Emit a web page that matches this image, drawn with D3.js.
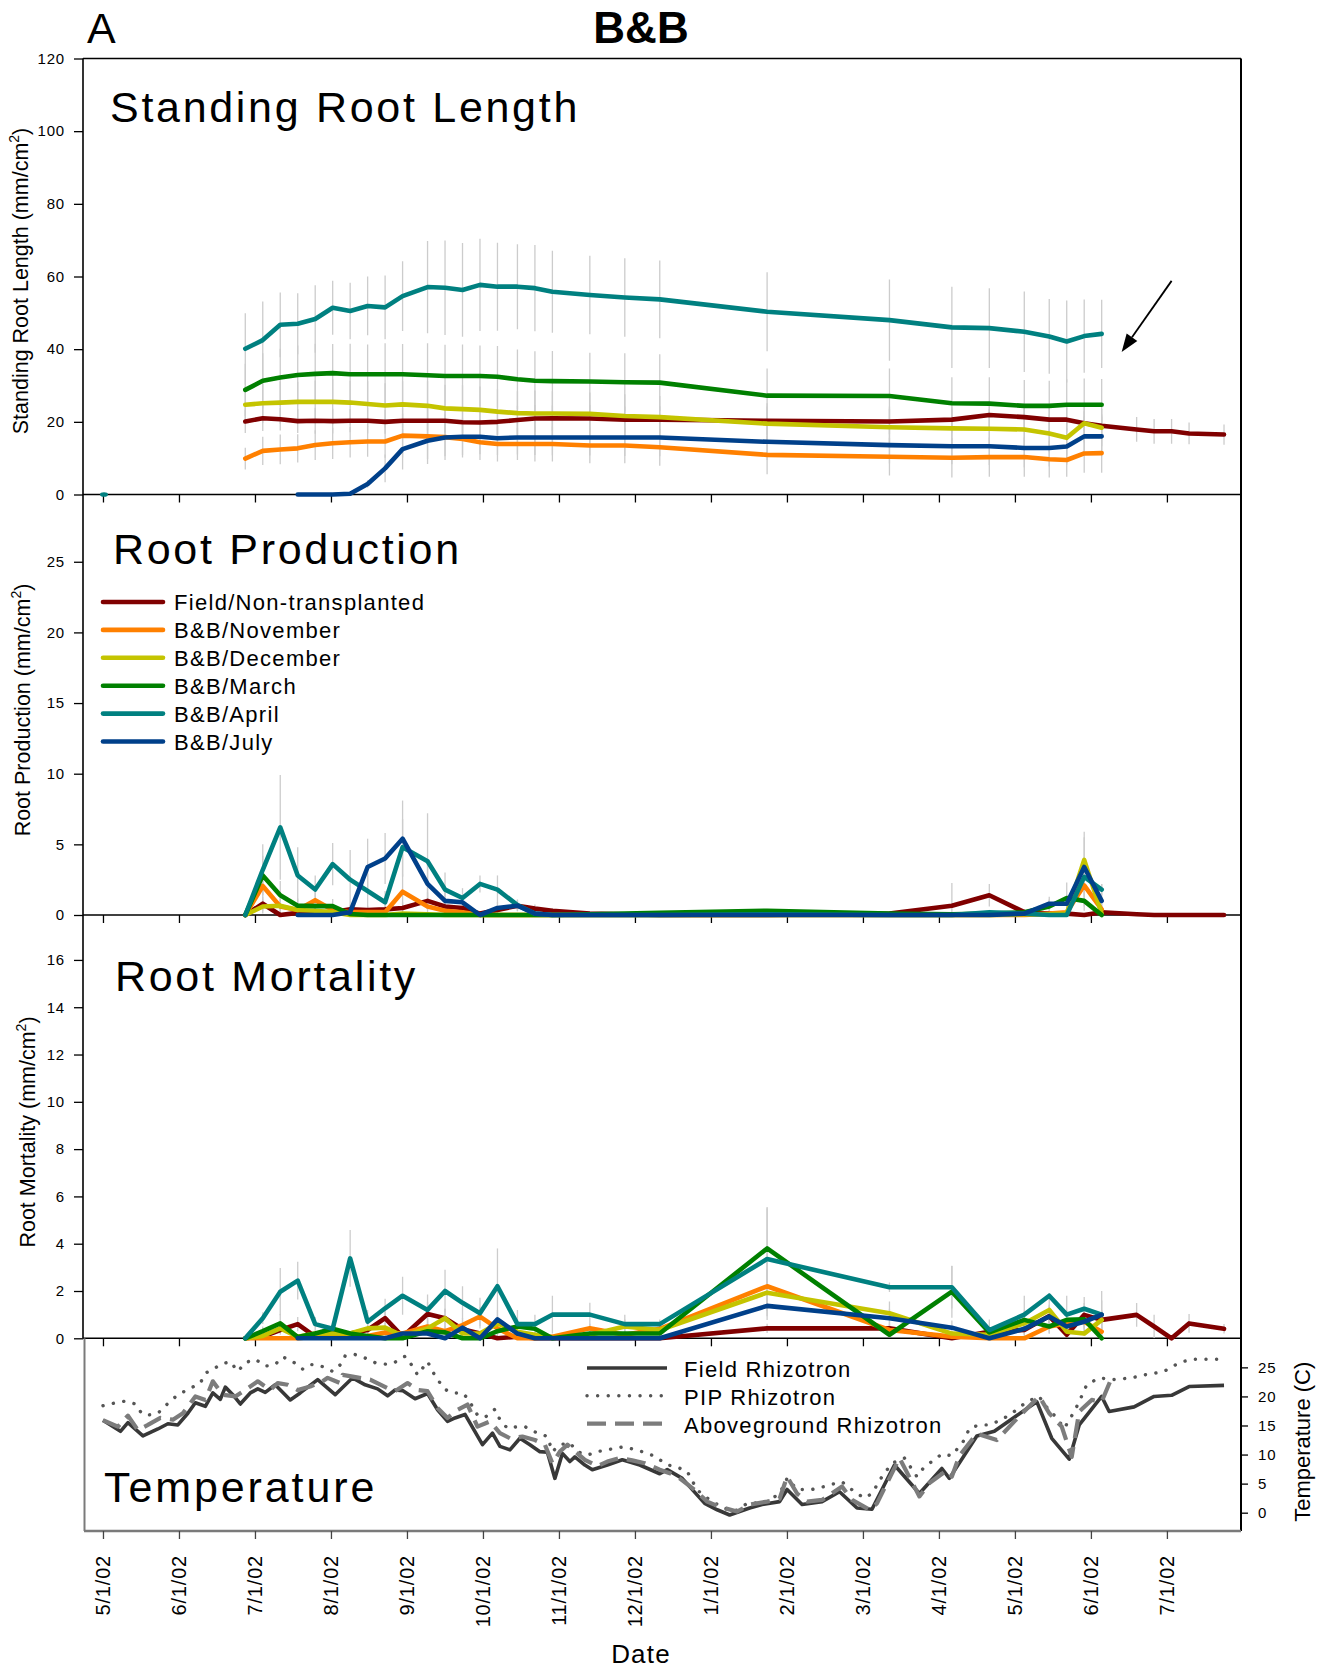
<!DOCTYPE html>
<html>
<head>
<meta charset="utf-8">
<script src="https://cdn.jsdelivr.net/npm/d3@7"></script>
<style>
  html, body { margin: 0; padding: 0; background: #ffffff; }
  svg { display: block; }
</style>
</head>
<body>
<svg id="chart" width="1323" height="1668"></svg>
<script>
// ---- sampling dates (days since 1 May 2002) ----
const sampleDays = [57,64,71,78,85,92,99,106,113,120,130,137,144,151,158,166,173,180,195,209,223,266,315,340,355,369,379,386,393,400,414,421,428,435,449];

const tickLabels = ["5/1/02","6/1/02","7/1/02","8/1/02","9/1/02","10/1/02","11/1/02","12/1/02","1/1/02","2/1/02","3/1/02","4/1/02","5/1/02","6/1/02","7/1/02"];

const treatments = ["Field/Non-transplanted","B&B/November","B&B/December","B&B/March","B&B/April","B&B/July"];

// ---- standing root length (mm/cm2), means and SE ----
const srlField = [20.1,21.0,20.7,20.2,20.3,20.2,20.3,20.3,20.0,20.3,20.3,20.3,19.9,19.8,20.0,20.5,20.9,21.0,20.9,20.6,20.6,20.3,20.1,20.6,21.9,21.3,20.6,20.6,19.6,18.9,17.9,17.4,17.4,16.8,16.5];
const srlNov   = [9.9,12.0,12.4,12.7,13.6,14.1,14.4,14.6,14.6,16.2,16.0,15.8,15.3,14.4,13.9,13.9,13.9,13.9,13.5,13.5,13.0,10.9,10.4,10.1,10.3,10.3,9.7,9.5,11.3,11.4];
const srlDec   = [24.7,25.1,25.3,25.5,25.5,25.5,25.3,24.9,24.5,24.8,24.4,23.7,23.5,23.3,22.8,22.4,22.3,22.3,22.2,21.6,21.3,19.5,18.5,18.2,18.1,17.9,16.8,15.6,19.6,18.4];
const srlMar   = [28.8,31.3,32.2,32.9,33.2,33.4,33.1,33.1,33.1,33.1,32.8,32.6,32.6,32.6,32.4,31.7,31.3,31.2,31.1,30.9,30.8,27.2,27.1,25.1,25.0,24.4,24.4,24.7,24.7,24.7];
const srlApr   = [40.1,42.5,46.7,47.0,48.3,51.4,50.5,51.9,51.5,54.6,57.1,56.9,56.3,57.7,57.2,57.2,56.8,55.8,54.9,54.2,53.7,50.3,48.0,46.0,45.8,44.8,43.5,42.1,43.6,44.2];
const srlJul   = [null,null,null,0,0,0,0.2,2.9,7.2,12.5,14.8,15.7,15.9,15.9,15.5,15.7,15.7,15.7,15.7,15.7,15.7,14.5,13.6,13.3,13.3,12.8,12.8,13.2,16.0,16.0];

const srlFieldSE = [3.2,3.5,3.1,3.3,3.6,3.4,3.2,3.5,3.3,3.6,3.8,3.4,3.5,3.7,3.6,3.9,3.7,3.5,3.8,3.6,3.7,3.9,3.5,3.6,3.8,3.7,3.5,3.4,3.3,3.2,3.4,3.4,3.4,3.0,2.8];
const srlNovSE   = [3.0,3.9,4.1,3.9,4.1,4.3,4.2,4.2,4.5,6.0,7.6,6.3,5.1,4.9,4.8,4.4,4.8,4.8,4.9,4.9,5.1,5.3,5.2,5.4,5.4,5.4,5.0,4.6,5.3,5.4];
const srlDecSE   = [5.1,5.4,5.8,5.5,5.9,6.2,6.0,6.3,6.1,6.4,6.8,6.5,6.6,6.4,6.2,6.0,6.3,6.1,5.9,6.0,5.8,5.6,5.7,5.5,5.4,5.6,5.2,4.9,5.3,5.1];
const srlMarSE   = [7.2,7.6,7.9,8.1,8.3,8.0,8.4,8.2,8.5,8.3,8.8,8.6,8.7,8.4,8.5,8.2,8.1,8.3,7.9,8.0,7.8,7.5,7.6,7.2,7.3,7.1,6.9,7.0,7.2,7.1];
const srlAprSE   = [9.8,10.6,8.9,8.4,9.3,7.4,7.8,8.1,8.8,9.6,12.7,13.0,12.9,12.7,12.1,11.7,11.9,11.3,10.8,10.8,10.7,10.9,11.2,11.2,11.0,11.1,10.3,11.3,10.1,9.4];
const srlJulSE   = [null,null,null,0,0,0,0.2,1.0,3.8,5.6,5.0,5.2,5.0,4.8,4.6,4.7,4.8,4.9,5.0,5.1,5.2,5.0,5.1,5.0,5.2,5.3,5.1,5.0,5.4,5.5];

// single early April reading at the start of the study
const srlAprEarlyDay = [0];
const srlAprEarly = [0];

// ---- root production (mm/cm2) ----
const prodField = [0,0.8,0,0.15,0.2,0.2,0.4,0.35,0.4,0.5,1.0,0.6,0.5,0.1,0.35,0.66,0.45,0.3,0.1,0.05,0,0,0.1,0.66,1.4,0.2,0.1,0.1,0,0.2,0.05,0,0,0,0];
const prodNov   = [0,2.05,0.6,0.35,1.05,0.35,0.2,0.2,0.2,1.65,0.6,0.3,0.2,0,0,0,0,0,0,0,0,0,0,0,0,0,0.1,0.2,2.1,0.4];
const prodDec   = [0,0.6,0.66,0.35,0.3,0.2,0,0,0,0.1,0.05,0,0,0,0,0,0,0,0,0,0,0,0,0,0,0.05,0.05,0.1,3.9,0.1];
const prodMar   = [0,2.8,1.4,0.66,0.63,0.63,0.07,0,0,0,0,0,0,0,0,0,0,0,0.05,0.1,0.15,0.3,0.1,0.05,0.1,0.2,0.6,1.2,1.0,0];
const prodApr   = [0,3.2,6.2,2.8,1.8,3.6,2.5,1.7,0.9,4.8,3.8,1.8,1.2,2.2,1.8,0.7,0.1,0,0,0,0,0.05,0,0,0.2,0.1,0,0,2.7,1.8];
const prodJul   = [null,null,null,0,0,0,0.2,3.4,4.0,5.4,2.2,1.0,0.9,0,0.5,0.66,0.1,0,0,0,0,0,0,0,0,0.1,0.8,0.8,3.4,1.0];

const prodFieldSE = [0,0.5,0,0.1,0.2,0.2,0.3,0.3,0.3,0.4,0.6,0.4,0.4,0.1,0.3,0.4,0.3,0.2,0.1,0.05,0,0,0.1,1.6,0.8,0.2,0.1,0.1,0,0.2,0.05,0,0,0,0];
const prodNovSE   = [0,1.2,0.5,0.3,0.8,0.3,0.2,0.2,0.2,1.2,0.5,0.3,0.2,0,0,0,0,0,0,0,0,0,0,0,0,0,0.1,0.2,1.5,0.4];
const prodDecSE   = [0,0.5,0.5,0.3,0.3,0.2,0,0,0,0.1,0.05,0,0,0,0,0,0,0,0,0,0,0,0,0,0,0.05,0.05,0.1,2.0,0.2];
const prodMarSE   = [0,1.4,1.0,0.5,0.5,0.5,0.1,0,0,0,0,0,0,0,0,0,0,0,0.05,0.1,0.1,0.1,0.1,0.05,0.1,0.2,0.5,1.1,0.7,0];
const prodAprSE   = [0,1.8,3.7,2.0,1.0,1.5,2.1,1.2,0.8,2.0,3.4,1.2,0.7,0.6,1.0,0.4,0.2,0.1,0,0,0,0.05,0,0,0.1,0.1,0,0,0.8,0.4];
const prodJulSE   = [null,null,null,0,0,0,0.2,2.0,1.8,2.7,1.4,0.6,0.5,0,0.4,0.3,0.1,0,0,0,0,0,0,0,0,0.1,0.5,0.6,2.1,1.2];

// ---- root mortality (mm/cm2) ----
const mortField = [0,0.07,0.35,0.6,0.07,0.2,0.2,0.35,0.85,0.07,1.03,0.85,0.38,0.2,0,0.07,0,0,0,0,0,0.42,0.42,0,0.28,0.35,0.94,0.15,0.99,0.78,0.99,0.5,0,0.63,0.4];
const mortNov   = [0,0,0,0,0.07,0.15,0.07,0.1,0.24,0.2,0.5,0.3,0.56,0.92,0.42,0,0,0.07,0.42,0.15,0.4,2.2,0.35,0.07,0,0,0.5,0.63,0.7,0.28];
const mortDec   = [0,0.1,0.42,0.07,0.2,0.2,0.2,0.42,0.45,0.1,0.42,0.85,0.2,0.2,0.63,0.28,0.15,0,0.15,0.5,0.35,1.93,1.06,0.2,0.15,0.63,1.2,0.28,0.2,0.78];
const mortMar   = [0,0.3,0.63,0.05,0.2,0.4,0.2,0.1,0,0,0.3,0.25,0,0,0.3,0.5,0.4,0,0.2,0.2,0.2,3.8,0.15,1.97,0.25,0.78,0.5,0.78,0.8,0];
const mortApr   = [0,0.85,1.97,2.44,0.6,0.4,3.38,0.7,1.27,1.8,1.2,2.0,1.5,1.06,2.2,0.6,0.6,1.0,1.0,0.6,0.6,3.35,2.16,2.16,0.35,1.0,1.8,1.0,1.25,1.0];
const mortJul   = [null,null,null,0,0,0,0,0,0,0.2,0.2,0,0.45,0,0.8,0.2,0,0,0,0,0,1.37,0.85,0.45,0,0.4,0.92,0.5,0.7,1.0];

const mortFieldSE = [0,0.05,0.2,0.3,0.05,0.1,0.1,0.2,0.4,0.05,0.5,0.4,0.2,0.1,0,0.05,0,0,0,0,0,0.2,0.2,0,0.2,0.2,0.4,0.1,0.5,0.4,0.5,0.5,0,0.4,0.2];
const mortNovSE   = [0,0,0,0,0.05,0.1,0.05,0.1,0.2,0.1,0.3,0.2,0.3,0.4,0.2,0,0,0.05,0.2,0.1,0.2,1.0,0.2,0.05,0,0,0.3,0.3,0.4,0.2];
const mortDecSE   = [0,0.1,0.2,0.05,0.1,0.1,0.1,0.2,0.2,0.1,0.2,0.4,0.1,0.1,0.3,0.2,0.1,0,0.1,0.3,0.2,1.0,0.5,0.1,0.1,0.3,0.7,0.2,0.1,0.4];
const mortMarSE   = [0,0.2,0.4,0.05,0.1,0.2,0.1,0.1,0,0,0.2,0.2,0,0,0.2,0.3,0.2,0,0.1,0.1,0.1,1.7,0.1,1.1,0.2,0.4,0.3,0.4,0.4,0];
const mortAprSE   = [0,0.25,1.0,0.8,0.3,0.2,1.2,0.5,0.4,0.8,0.65,0.9,0.7,0.65,1.6,0.6,0.4,0.8,0.5,0.4,0.2,2.2,0.2,0.9,0.45,0.8,0.1,0.8,0.5,1.0];
const mortJulSE   = [null,null,null,0,0,0,0,0,0,0.1,0.1,0,0.3,0,0.4,0.1,0,0,0,0,0,0.6,0.4,0.3,0,0.3,0.5,0.3,0.4,0.6];

// ---- rhizotron temperatures (C) ----
const fieldTempDays = [0,7,10,16,22,26,30,34,37,41,44,47,49,52,55,59,62,65,69,75,79,86,93,100,105,110,114,117,120,125,130,134,138,141,145,152,156,159,163,167,171,175,178,181,184,187,189,193,196,202,208,215,223,226,232,241,246,251,259,264,271,274,280,288,295,302,308,317,327,336,339,350,357,374,380,387,391,400,403,413,421,428,435,449];
const fieldTemp = [15.9,14.0,15.5,13.2,14.4,15.3,15.1,17.1,18.9,18.3,20.6,19.5,21.6,20.3,18.7,20.6,21.3,20.7,22.0,19.4,20.6,22.9,20.3,23.2,22.0,21.3,20.1,21.1,21.0,19.6,20.5,17.7,15.7,16.3,16.9,11.7,13.7,11.4,10.8,12.8,11.7,10.5,10.4,5.9,10.2,8.8,9.6,8.2,7.4,8.2,9.1,8.2,6.7,7.4,5.9,1.6,0.5,-0.4,0.8,1.4,1.9,4.0,1.4,1.9,3.6,0.8,0.6,8.2,3.3,7.6,5.9,13.2,14.0,19.1,12.8,9.2,15.1,20.0,17.4,18.2,20.0,20.2,21.7,21.9];

const pipTempDays = [0,5,9,13,15,17,22,25,30,35,39,41,45,47,51,54,57,61,65,69,72,76,80,83,87,92,96,97,101,105,109,114,117,121,124,126,130,132,134,137,140,144,146,150,153,157,159,162,166,169,173,178,180,183,187,190,194,198,203,208,213,218,221,226,229,234,238,243,249,254,258,262,266,271,274,278,284,289,292,296,301,305,308,312,316,321,326,329,333,336,340,345,347,351,355,360,365,370,375,377,382,385,389,391,394,399,404,408,413,417,420,425,428,432,436,449];
const pipTemp = [18.4,18.9,19.2,18.7,17.4,16.7,17.1,18.4,20.3,21.4,22.3,24.0,24.9,25.5,26.0,24.3,25.8,26.4,25.2,25.5,26.8,26.0,24.7,25.5,25.3,24.3,25.8,27.0,27.2,26.6,25.8,25.5,25.9,26.9,25.2,23.7,26.0,24.3,22.9,21.2,20.6,20.6,19.7,16.8,16.4,17.8,16.0,14.5,14.8,14.8,13.9,13.1,10.5,11.7,12.0,10.5,9.9,10.5,10.9,11.3,10.9,10.2,9.7,8.2,8.0,7.1,3.9,2.2,0.7,0.4,1.6,1.7,1.9,3.3,5.9,4.0,4.0,4.5,4.9,5.3,3.6,2.5,3.3,6.2,8.5,9.4,6.2,7.9,9.1,10.1,9.8,12.5,14.5,15.1,15.1,16.0,17.4,19.1,20.0,18.6,16.3,14.5,17.4,19.1,22.0,23.2,22.9,23.0,23.3,23.7,23.9,24.3,25.1,25.9,26.4,26.4];

const agTempDays = [0,6,10,14,18,23,28,32,37,41,44,48,53,57,62,67,70,74,78,83,88,90,95,96,100,107,114,117,122,126,130,134,138,142,146,150,155,159,163,168,173,177,180,183,186,190,193,198,202,207,212,217,223,227,231,237,242,247,254,259,266,271,274,278,282,288,296,300,307,310,319,327,331,338,340,343,350,358,367,375,379,384,388,391,396,400,404];
const agTemp = [15.9,14.8,16.7,14.2,15.1,16.3,16.0,17.1,20.0,19.4,22.6,20.3,20.0,21.1,22.6,21.1,22.3,22.0,21.1,21.7,22.6,23.2,22.3,23.7,23.4,22.9,21.4,20.9,22.3,21.1,20.9,18.0,16.3,17.7,18.6,14.8,15.7,13.7,12.8,13.1,12.5,11.7,8.5,10.5,11.7,10.2,9.1,8.0,8.8,9.4,9.0,8.5,7.4,6.8,5.9,3.9,1.9,1.0,0.2,1.4,1.9,2.4,6.2,3.3,1.9,2.2,4.5,2.2,0.5,1.6,9.4,2.8,5.1,7.3,6.2,9.8,13.6,12.5,16.6,20.0,17.1,14.8,9.6,17.4,19.4,19.1,23.2];

// ------------------------------------------------------------------
const FONT = "'Liberation Sans', Arial, Helvetica, sans-serif";
const colors = ["#800000", "#ff8000", "#c4c400", "#008000", "#008080", "#00408a"];

const left = 83, right = 1241;
const svg = d3.select("#chart").style("font-family", FONT);

// study-day axis, one tick per (average) month
const x = d3.scaleLinear().domain([-8, 455.8]).range([left, right]);
const monthTicks = tickLabels.map((_, i) => i * 365.25 / 12);

const ySrl  = d3.scaleLinear().domain([0, 120]).range([494.5, 58.5]);
const yProd = d3.scaleLinear().domain([0, 29.76]).range([915, 494.5]);
const yMort = d3.scaleLinear().domain([0, 17.9]).range([1338.3, 915]);
const yTemp = d3.scaleLinear().domain([-3.15, 30]).range([1531, 1338.3]);

const panels = [
  { id: "srl",  y: ySrl,  ticks: d3.range(0, 121, 20),
    means: [srlField, srlNov, srlDec, srlMar, srlApr, srlJul],
    errs:  [srlFieldSE, srlNovSE, srlDecSE, srlMarSE, srlAprSE, srlJulSE],
    title: "Standing Root Length", titleX: 110, titleY: 122,
    axisLabel: "Standing Root Length (mm/cm", labelX: 27.5, labelY: 281 },
  { id: "prod", y: yProd, ticks: d3.range(0, 26, 5),
    means: [prodField, prodNov, prodDec, prodMar, prodApr, prodJul],
    errs:  [prodFieldSE, prodNovSE, prodDecSE, prodMarSE, prodAprSE, prodJulSE],
    title: "Root Production", titleX: 113, titleY: 564,
    axisLabel: "Root Production (mm/cm", labelX: 29.5, labelY: 710 },
  { id: "mort", y: yMort, ticks: d3.range(0, 17, 2),
    means: [mortField, mortNov, mortDec, mortMar, mortApr, mortJul],
    errs:  [mortFieldSE, mortNovSE, mortDecSE, mortMarSE, mortAprSE, mortJulSE],
    title: "Root Mortality", titleX: 115, titleY: 991,
    axisLabel: "Root Mortality (mm/cm", labelX: 34.5, labelY: 1132 }
];

const defs = svg.append("defs");

function styleTickText(g, size) {
  g.selectAll("text")
    .attr("fill", "#000")
    .style("font-family", FONT)
    .style("font-size", size + "px")
    .attr("letter-spacing", "0.8");
}

// ---- frame and axes for the three root panels ----
panels.forEach(p => {
  const [yb, yt] = p.y.range();

  defs.append("clipPath").attr("id", "clip-" + p.id)
    .append("rect").attr("x", left).attr("y", yt)
    .attr("width", right - left).attr("height", yb - yt);

  // y axis ticks + labels
  svg.append("g")
    .attr("transform", `translate(${left},0)`)
    .call(d3.axisLeft(p.y).tickValues(p.ticks).tickSize(9).tickPadding(9).tickSizeOuter(0))
    .call(g => g.select(".domain").remove())
    .call(g => g.selectAll("line").attr("stroke", "#000").attr("stroke-width", 1.3))
    .call(g => styleTickText(g, 15));

  // month ticks along the panel base
  svg.append("g")
    .attr("transform", `translate(0,${yb})`)
    .call(d3.axisBottom(x).tickValues(monthTicks).tickSize(8).tickSizeOuter(0).tickFormat(() => ""))
    .call(g => g.select(".domain").remove())
    .call(g => g.selectAll("line").attr("stroke", "#000").attr("stroke-width", 1.3));

  // base line
  svg.append("line").attr("x1", left).attr("x2", right).attr("y1", yb).attr("y2", yb)
    .attr("stroke", "#000").attr("stroke-width", 1.6);

  // panel title
  svg.append("text").attr("x", p.titleX).attr("y", p.titleY)
    .attr("font-size", 43).attr("letter-spacing", 2.7).attr("fill", "#000")
    .text(p.title);

  // rotated y axis title with superscript
  const t = svg.append("text")
    .attr("transform", `translate(${p.labelX},${p.labelY}) rotate(-90)`)
    .attr("text-anchor", "middle").attr("font-size", 21.5).attr("fill", "#000");
  t.append("tspan").text(p.axisLabel);
  t.append("tspan").attr("font-size", 14).attr("dy", -9).text("2");
  t.append("tspan").attr("dy", 9).text(")");
});

// outer frame
svg.append("line").attr("x1", left).attr("x2", right).attr("y1", ySrl(120)).attr("y2", ySrl(120))
  .attr("stroke", "#000").attr("stroke-width", 1.6);
svg.append("line").attr("x1", left).attr("x2", left).attr("y1", ySrl(120)).attr("y2", yMort(0))
  .attr("stroke", "#000").attr("stroke-width", 1.6);
svg.append("line").attr("x1", right).attr("x2", right).attr("y1", ySrl(120)).attr("y2", yTemp.range()[0])
  .attr("stroke", "#000").attr("stroke-width", 2);

// ---- error bars (behind the lines) ----
panels.forEach(p => {
  const g = svg.append("g").attr("clip-path", `url(#clip-${p.id})`);
  p.means.forEach((vals, s) => {
    const se = p.errs[s];
    const bars = sampleDays.map((day, i) => ({ day, v: vals[i], e: se[i] }))
      .filter(d => d.v != null && d.e != null && d.e > 0);
    g.selectAll(null).data(bars).join("line")
      .attr("x1", d => x(d.day)).attr("x2", d => x(d.day))
      .attr("y1", d => p.y(d.v - d.e)).attr("y2", d => p.y(d.v + d.e))
      .attr("stroke", "#cccccc").attr("stroke-width", 1.3);
  });
});

// ---- treatment lines ----
panels.forEach(p => {
  const line = d3.line().defined(d => d.v != null).x(d => x(d.day)).y(d => p.y(d.v));
  p.means.forEach((vals, s) => {
    const pts = sampleDays.map((day, i) => ({ day, v: vals[i] === undefined ? null : vals[i] }));
    svg.append("path").datum(pts)
      .attr("d", line)
      .attr("fill", "none").attr("stroke", colors[s]).attr("stroke-width", 4.6)
      .attr("stroke-linejoin", "round").attr("stroke-linecap", "round");
  });
});

// early April reading
svg.selectAll(null).data(srlAprEarlyDay.map((d, i) => ({ day: d, v: srlAprEarly[i] }))).join("ellipse")
  .attr("cx", d => x(d.day) + 1).attr("cy", d => ySrl(d.v))
  .attr("rx", 4).attr("ry", 2.3).attr("fill", colors[4]);

// arrow pointing at the end of the B&B records
{
  const tail = [x(428), ySrl(58.8)], tip = [x(408), ySrl(39.2)];
  const dx = tip[0] - tail[0], dy = tip[1] - tail[1], len = Math.hypot(dx, dy);
  const ux = dx / len, uy = dy / len, head = 18, half = 6.5;
  const base = [tip[0] - ux * head, tip[1] - uy * head];
  svg.append("line").attr("x1", tail[0]).attr("y1", tail[1]).attr("x2", base[0]).attr("y2", base[1])
    .attr("stroke", "#000").attr("stroke-width", 1.8);
  svg.append("polygon")
    .attr("points", [tip, [base[0] - uy * half, base[1] + ux * half], [base[0] + uy * half, base[1] - ux * half]]
      .map(p => p.join(",")).join(" "))
    .attr("fill", "#000");
}

// ---- legend for treatments ----
const legend = svg.append("g");
treatments.forEach((name, i) => {
  const yb = 610 + i * 27.9;
  legend.append("line").attr("x1", 103).attr("x2", 163).attr("y1", yb - 8).attr("y2", yb - 8)
    .attr("stroke", colors[i]).attr("stroke-width", 4.6).attr("stroke-linecap", "round");
  legend.append("text").attr("x", 174).attr("y", yb)
    .attr("font-size", 22).attr("letter-spacing", 1.3).attr("fill", "#000").text(name);
});

// ---- temperature panel ----
const tBottom = yTemp.range()[0], tTop = yTemp.range()[1];
svg.append("line").attr("x1", 84.5).attr("x2", 84.5).attr("y1", tTop).attr("y2", tBottom)
  .attr("stroke", "#7a7a7a").attr("stroke-width", 2);
svg.append("line").attr("x1", 84).attr("x2", right).attr("y1", tBottom).attr("y2", tBottom)
  .attr("stroke", "#7a7a7a").attr("stroke-width", 2.5);

svg.append("g")
  .attr("transform", `translate(0,${tBottom})`)
  .call(d3.axisBottom(x).tickValues(monthTicks).tickSize(8).tickSizeOuter(0).tickFormat(() => ""))
  .call(g => g.select(".domain").remove())
  .call(g => g.selectAll("line").attr("stroke", "#444").attr("stroke-width", 1.3));

svg.append("g")
  .attr("transform", `translate(${right},0)`)
  .call(d3.axisRight(yTemp).tickValues([0, 5, 10, 15, 20, 25]).tickSize(7).tickPadding(10).tickSizeOuter(0))
  .call(g => g.select(".domain").remove())
  .call(g => g.selectAll("line").attr("stroke", "#000").attr("stroke-width", 1.3))
  .call(g => styleTickText(g, 15));

svg.append("text")
  .attr("transform", `translate(1310,${yTemp(12.2)}) rotate(-90)`)
  .attr("text-anchor", "middle").attr("font-size", 22).attr("fill", "#000")
  .text("Temperature (C)");

// month labels
svg.append("g").selectAll("text").data(monthTicks).join("text")
  .attr("transform", d => `translate(${x(d)},1555) rotate(-90)`)
  .attr("dy", "0.36em").attr("text-anchor", "end")
  .attr("font-size", 20).attr("letter-spacing", 0.8).attr("fill", "#000")
  .text((d, i) => tickLabels[i]);

svg.append("text").attr("x", 641).attr("y", 1663).attr("text-anchor", "middle")
  .attr("font-size", 26).attr("letter-spacing", 1.2).attr("fill", "#000").text("Date");

svg.append("text").attr("x", 104).attr("y", 1502)
  .attr("font-size", 43).attr("letter-spacing", 2.9).attr("fill", "#000").text("Temperature");

const tLine = d3.line().x(d => x(d[0])).y(d => yTemp(d[1]));
const tempSeries = [
  { name: "Field Rhizotron", days: fieldTempDays, vals: fieldTemp, stroke: "#383838", width: 3.6, dash: null },
  { name: "PIP Rhizotron", days: pipTempDays, vals: pipTemp, stroke: "#555555", width: 3.4, dash: "0.1 10.5" },
  { name: "Aboveground Rhizotron", days: agTempDays, vals: agTemp, stroke: "#7c7c7c", width: 4.2, dash: "19 9" }
];
tempSeries.forEach((s, i) => {
  svg.append("path").datum(s.days.map((d, k) => [d, s.vals[k]]))
    .attr("d", tLine).attr("fill", "none")
    .attr("stroke", s.stroke).attr("stroke-width", s.width)
    .attr("stroke-dasharray", s.dash)
    .attr("stroke-linecap", s.dash && s.dash.startsWith("0.1") ? "round" : "butt")
    .attr("stroke-linejoin", "round");
  const yb = 1377 + i * 27.8;
  svg.append("line").attr("x1", 587).attr("x2", 667).attr("y1", yb - 9).attr("y2", yb - 9)
    .attr("stroke", s.stroke).attr("stroke-width", s.width)
    .attr("stroke-dasharray", s.dash)
    .attr("stroke-linecap", s.dash && s.dash.startsWith("0.1") ? "round" : "butt");
  svg.append("text").attr("x", 684).attr("y", yb)
    .attr("font-size", 22).attr("letter-spacing", 1.3).attr("fill", "#000").text(s.name);
});

// ---- headings ----
svg.append("text").attr("x", 87).attr("y", 43).attr("font-size", 43).attr("fill", "#000").text("A");
svg.append("text").attr("x", 641).attr("y", 43).attr("text-anchor", "middle")
  .attr("font-size", 44).attr("font-weight", "bold").attr("fill", "#000").text("B&B");
</script>
</body>
</html>
